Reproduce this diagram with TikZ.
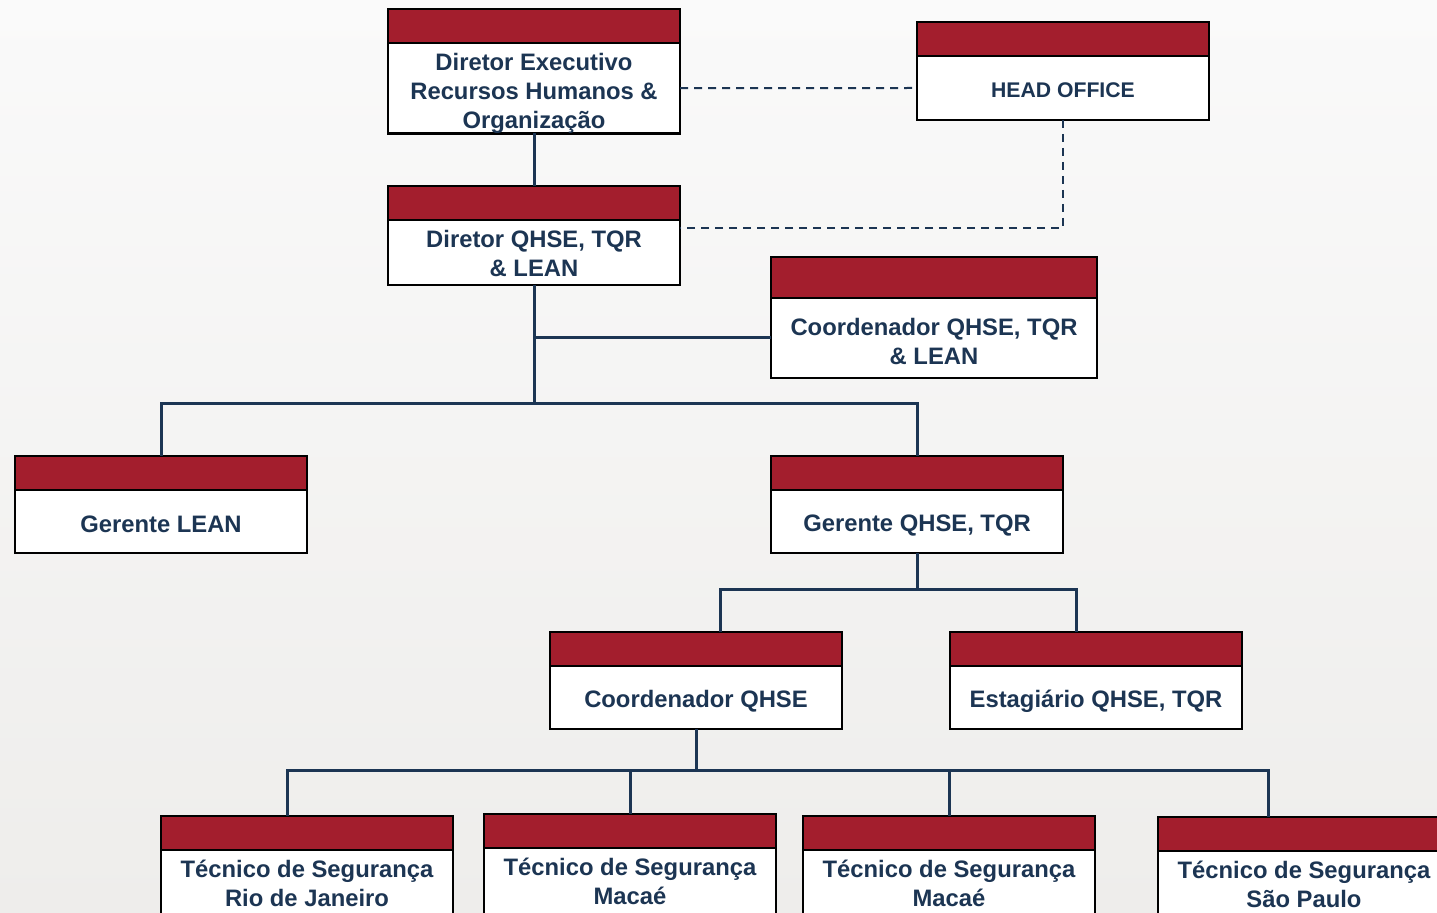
\documentclass[tikz,border=0pt]{standalone}
\usepackage{fontspec}
\setmainfont{Liberation Sans}
\usepackage{xcolor}
\usetikzlibrary{calc}

\definecolor{cargoRed}{HTML}{A31E2D}
\definecolor{cargoNavy}{HTML}{1C3553}
\definecolor{bgTop}{HTML}{FAFAFA}
\definecolor{bgBottom}{HTML}{EEEDEB}

\begin{document}
\begin{tikzpicture}[x=0.5pt, y=-0.5pt,
    header/.style={anchor=north west, rectangle, draw=black, line width=1.2pt, fill=cargoRed, minimum width=146pt, minimum height=17pt, inner sep=0pt, outer sep=0pt},
    body/.style={anchor=north, rectangle, draw=black, line width=1.2pt, fill=white, minimum width=146pt, minimum height=31.5pt, inner sep=0pt, outer sep=0pt, align=center, text=cargoNavy, font=\fontsize{11.9}{14.5}\selectfont\bfseries},
    textdrop/.style={execute at begin node={\rule{0pt}{#1}}},
    link/.style={draw=cargoNavy, line width=1.5pt},
    office/.style={draw=cargoNavy, line width=1pt, dash pattern=on 4pt off 3pt}]

        %% Background
        \useasboundingbox (0,0) rectangle (1437,913);
        \shade [top color=bgTop, bottom color=bgBottom] (0,0) rectangle (1437,913);
        \clip (0,0) rectangle (1437,913);

        %% Direction
        \node (dirExecHead) [header] at (388,9) {};
        \node (dirExecBody) [body, minimum height=44pt] at (dirExecHead.south) {\rule{0pt}{13.7pt}Diretor Executivo\\Recursos Humanos \&\\Organização};
        \node (headHead) [header] at (917,22) {};
        \node (headBody) [body, minimum height=32pt, textdrop=10pt, font=\fontsize{10.6}{14.5}\selectfont\bfseries] at (headHead.south) {HEAD OFFICE};
        \node (dirQHSEHead) [header] at (388,186) {};
        \node (dirQHSEBody) [body, minimum height=32.5pt] at (dirQHSEHead.south) {\rule{0pt}{9.7pt}Diretor QHSE, TQR\\\& LEAN};
        \node (coordLeanHead) [header, minimum width=163pt, minimum height=20.5pt] at (771,257) {};
        \node (coordLeanBody) [body, minimum width=163pt, minimum height=40pt] at (coordLeanHead.south) {\rule{0pt}{11.7pt}Coordenador QHSE, TQR\\\& LEAN};

        %% Gerentes
        \node (gerLeanHead) [header] at (15,456) {};
        \node (gerLeanBody) [body, textdrop=11.6pt] at (gerLeanHead.south) {Gerente LEAN};
        \node (gerQHSEHead) [header] at (771,456) {};
        \node (gerQHSEBody) [body, textdrop=12.4pt] at (gerQHSEHead.south) {Gerente QHSE, TQR};

        %% Coordenador & Estagiario
        \node (coordQHSEHead) [header] at (550,632) {};
        \node (coordQHSEBody) [body, textdrop=12.6pt] at (coordQHSEHead.south) {Coordenador QHSE};
        \node (estagHead) [header] at (950,632) {};
        \node (estagBody) [body, textdrop=12.6pt] at (estagHead.south) {Estagiário QHSE, TQR};

        %% Tecnicos
        \node (tecRJHead) [header] at (161,816) {};
        \node (tecRJBody) [body, minimum height=33pt] at (tecRJHead.south) {Técnico de Segurança\\Rio de Janeiro};
        \node (tecMacaeAHead) [header] at (484,814) {};
        \node (tecMacaeABody) [body, minimum height=33pt] at (tecMacaeAHead.south) {Técnico de Segurança\\Macaé};
        \node (tecMacaeBHead) [header] at (803,816) {};
        \node (tecMacaeBBody) [body, minimum height=33pt] at (tecMacaeBHead.south) {Técnico de Segurança\\Macaé};
        \node (tecSPHead) [header] at (1158,817) {};
        \node (tecSPBody) [body, minimum height=33pt] at (tecSPHead.south) {Técnico de Segurança\\São Paulo};

        %% Bus points
        \coordinate (busLeader) at (dirQHSEBody.south |- {(0,404)});
        \coordinate (busGerente) at (gerQHSEBody.south |- {(0,590)});
        \coordinate (busCoord) at (coordQHSEBody.south |- {(0,771)});

        %% Links
        \draw [link] (dirExecBody.south) -- (dirQHSEHead.north);
        \draw [link] (dirQHSEBody.south) -- (busLeader);
        \draw [link] (dirQHSEBody.south |- coordLeanBody.west) -- (coordLeanBody.west);
        \draw [link] (gerLeanHead.north) |- (busLeader) -| (gerQHSEHead.north);
        \draw [link] (gerQHSEBody.south) -- (busGerente);
        \draw [link] ([xshift=12pt]coordQHSEHead.north) |- (busGerente) -| ([xshift=-10pt]estagHead.north);
        \draw [link] (coordQHSEBody.south) -- (busCoord);
        \draw [link] ([xshift=-10pt]tecRJHead.north) |- (busCoord) -| ([xshift=-18pt]tecSPHead.north);
        \draw [link] (tecMacaeAHead.north) -- (tecMacaeAHead.north |- busCoord);
        \draw [link] (tecMacaeBHead.north) -- (tecMacaeBHead.north |- busCoord);

        %% Head office (dashed)
        \draw [office] (dirExecBody.east) -- (headBody.west);
        \draw [office] (headBody.south) |- ([yshift=-4pt]dirQHSEBody.north east);

\end{tikzpicture}
\end{document}
